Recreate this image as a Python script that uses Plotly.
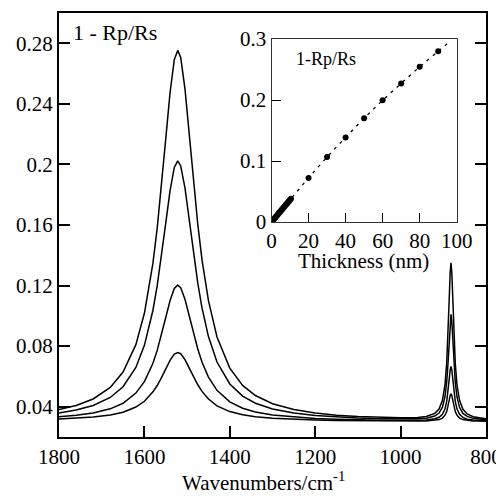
import plotly.graph_objects as go

# ---------------- data ----------------
wavenumber = [1800, 1760, 1720, 1680, 1650, 1620, 1600, 1580, 1570, 1560, 1550, 1540, 1530, 1522,
              1515, 1505, 1495, 1485, 1475, 1465, 1450, 1430, 1400, 1370, 1340, 1300, 1250, 1200,
              1150, 1100, 1050, 1000, 960, 940, 920, 910, 902, 896, 892, 889, 886, 884, 882, 880,
              878, 875, 872, 868, 862, 854, 844, 830, 815, 800]

spec_1 = [0.0382, 0.0408, 0.0451, 0.0527, 0.0629, 0.0810, 0.1017, 0.1348, 0.1579, 0.1857, 0.2169,
          0.2472, 0.2692, 0.2753, 0.2706, 0.2499, 0.2200, 0.1886, 0.1604, 0.1368, 0.1100, 0.0861,
          0.0655, 0.0541, 0.0474, 0.0420, 0.0382, 0.0359, 0.0344, 0.0336, 0.0330, 0.0327, 0.0329,
          0.0335, 0.0356, 0.0385, 0.0443, 0.0546, 0.0688, 0.0868, 0.1121, 0.1281, 0.1350, 0.1281,
          0.1121, 0.0868, 0.0687, 0.0545, 0.0442, 0.0383, 0.0352, 0.0334, 0.0325, 0.0320]

spec_2 = [0.0359, 0.0378, 0.0408, 0.0461, 0.0532, 0.0659, 0.0805, 0.1037, 0.1199, 0.1394, 0.1613,
          0.1826, 0.1980, 0.2023, 0.1990, 0.1845, 0.1635, 0.1415, 0.1216, 0.1051, 0.0863, 0.0695,
          0.0550, 0.0470, 0.0423, 0.0385, 0.0358, 0.0342, 0.0331, 0.0325, 0.0321, 0.0318, 0.0320,
          0.0324, 0.0338, 0.0358, 0.0397, 0.0467, 0.0563, 0.0685, 0.0856, 0.0964, 0.1010, 0.0964,
          0.0856, 0.0684, 0.0562, 0.0466, 0.0396, 0.0356, 0.0336, 0.0323, 0.0317, 0.0314]

spec_3 = [0.0333, 0.0343, 0.0358, 0.0386, 0.0423, 0.0490, 0.0566, 0.0687, 0.0772, 0.0874, 0.0989,
          0.1100, 0.1181, 0.1203, 0.1186, 0.1110, 0.1000, 0.0885, 0.0781, 0.0694, 0.0596, 0.0508,
          0.0432, 0.0390, 0.0365, 0.0345, 0.0331, 0.0322, 0.0317, 0.0313, 0.0311, 0.0310, 0.0310,
          0.0313, 0.0320, 0.0330, 0.0350, 0.0386, 0.0435, 0.0498, 0.0586, 0.0642, 0.0666, 0.0642,
          0.0586, 0.0498, 0.0435, 0.0386, 0.0350, 0.0329, 0.0318, 0.0312, 0.0309, 0.0307]

spec_4 = [0.0319, 0.0324, 0.0332, 0.0346, 0.0364, 0.0398, 0.0436, 0.0498, 0.0540, 0.0592, 0.0650,
          0.0706, 0.0747, 0.0758, 0.0750, 0.0711, 0.0655, 0.0597, 0.0545, 0.0501, 0.0451, 0.0406,
          0.0368, 0.0347, 0.0334, 0.0324, 0.0317, 0.0312, 0.0309, 0.0307, 0.0306, 0.0305, 0.0305,
          0.0306, 0.0310, 0.0315, 0.0325, 0.0344, 0.0368, 0.0400, 0.0445, 0.0473, 0.0485, 0.0473,
          0.0445, 0.0400, 0.0368, 0.0344, 0.0325, 0.0315, 0.0310, 0.0306, 0.0305, 0.0304]

main_x_ticks = [1800, 1600, 1400, 1200, 1000, 800]
main_x_labels = ["1800", "1600", "1400", "1200", "1000", "800"]
main_y_ticks = [0.04, 0.08, 0.12, 0.16, 0.20, 0.24, 0.28]
main_y_labels = ["0.04", "0.08", "0.12", "0.16", "0.2", "0.24", "0.28"]

# inset: 1 - Rp/Rs vs thickness
thick_fine = [0, 0.5, 1, 1.5, 2, 2.5, 3, 3.5, 4, 4.5, 5, 5.5, 6, 6.5, 7, 7.5, 8, 8.5, 9, 9.5, 10, 10.5]
ratio_fine = [0, 0.0018, 0.0036, 0.0055, 0.0073, 0.0091, 0.0109, 0.0127, 0.0146, 0.0164, 0.0182,
              0.0200, 0.0218, 0.0237, 0.0255, 0.0273, 0.0291, 0.0309, 0.0328, 0.0346, 0.0364, 0.0382]
thick_coarse = [20, 30, 40, 50, 60, 70, 80, 90]
ratio_coarse = [0.0723, 0.1065, 0.1386, 0.1701, 0.1995, 0.2272, 0.2543, 0.2799]
fit_thick = [0, 10.5, 20, 30, 40, 50, 60, 70, 80, 90, 97]
fit_ratio = [0, 0.0382, 0.0723, 0.1065, 0.1386, 0.1701, 0.1995, 0.2272, 0.2543, 0.2799, 0.2975]

inset_x_ticks = [0, 20, 40, 60, 80, 100]
inset_x_labels = ["0", "20", "40", "60", "80", "100"]
inset_y_ticks = [0, 0.1, 0.2, 0.3]
inset_y_labels = ["0", "0.1", "0.2", "0.3"]

# ---------------- figure ----------------
FONT = "'Liberation Serif', 'Times New Roman', serif"
fig = go.Figure()

for s in (spec_1, spec_2, spec_3, spec_4):
    fig.add_trace(go.Scatter(x=wavenumber, y=s, mode="lines",
                             line=dict(color="black", width=1.5),
                             xaxis="x", yaxis="y", showlegend=False, hoverinfo="skip"))

fig.add_trace(go.Scatter(x=fit_thick, y=fit_ratio, mode="lines",
                         line=dict(color="black", width=1.3, dash="3px,5px", shape="spline"),
                         xaxis="x2", yaxis="y2", showlegend=False))
fig.add_trace(go.Scatter(x=thick_fine, y=ratio_fine, mode="markers",
                         marker=dict(color="black", size=6),
                         xaxis="x2", yaxis="y2", showlegend=False))
fig.add_trace(go.Scatter(x=thick_coarse, y=ratio_coarse, mode="markers",
                         marker=dict(color="black", size=6),
                         xaxis="x2", yaxis="y2", showlegend=False))

# the page body offsets the figure by 8 px, so the figure is 8 px smaller than the window
fig.update_layout(
    width=496, height=488,
    margin=dict(l=51, r=18, t=5, b=59, autoexpand=False),
    paper_bgcolor="white", plot_bgcolor="white",
    font=dict(family=FONT, size=21, color="black"),
    xaxis=dict(domain=[0, 1], range=[1800, 800], autorange=False, automargin=False,
               tickvals=main_x_ticks, ticktext=main_x_labels, ticklabeloverflow="allow",
               ticks="inside", ticklen=11, tickwidth=2, tickcolor="black",
               showline=True, linewidth=2, linecolor="black", mirror=True,
               showgrid=False, zeroline=False),
    yaxis=dict(domain=[0, 1], range=[0.02, 0.30], autorange=False, automargin=False,
               tickvals=main_y_ticks, ticktext=main_y_labels, ticklabeloverflow="allow",
               ticks="inside", ticklen=11, tickwidth=2, tickcolor="black",
               showline=True, linewidth=2, linecolor="black", mirror="ticks",
               showgrid=False, zeroline=False),
    xaxis2=dict(domain=[0.4977, 0.9314], anchor="y2", range=[0, 100], autorange=False,
                automargin=False,
                tickvals=inset_x_ticks, ticktext=inset_x_labels,
                ticks="inside", ticklen=9, tickwidth=1, tickcolor="black",
                showline=True, linewidth=1, linecolor="#333", mirror=True,
                showgrid=False, zeroline=False),
    yaxis2=dict(domain=[0.507, 0.9387], anchor="x2", range=[0, 0.3], autorange=False,
                automargin=False,
                tickvals=inset_y_ticks, ticktext=inset_y_labels,
                ticks="inside", ticklen=9, tickwidth=1, tickcolor="black",
                showline=True, linewidth=1, linecolor="#333", mirror=True,
                showgrid=False, zeroline=False),
    annotations=[
        dict(text="1 - Rp/Rs", xref="paper", yref="paper", x=0.028, y=0.953,
             xanchor="left", yanchor="middle", showarrow=False, font=dict(size=22)),
        dict(text="1-Rp/Rs", xref="paper", yref="paper", x=0.5515, y=0.892,
             xanchor="left", yanchor="middle", showarrow=False, font=dict(size=18)),
        dict(text="Thickness (nm)", xref="paper", yref="paper", x=0.714, y=0.414,
             xanchor="center", yanchor="middle", showarrow=False, font=dict(size=21)),
        dict(text="Wavenumbers/cm<sup>-1</sup>", xref="paper", yref="paper", x=0.478, y=-0.106,
             xanchor="center", yanchor="middle", showarrow=False, font=dict(size=21)),
    ],
)

fig.write_html("out.html")
